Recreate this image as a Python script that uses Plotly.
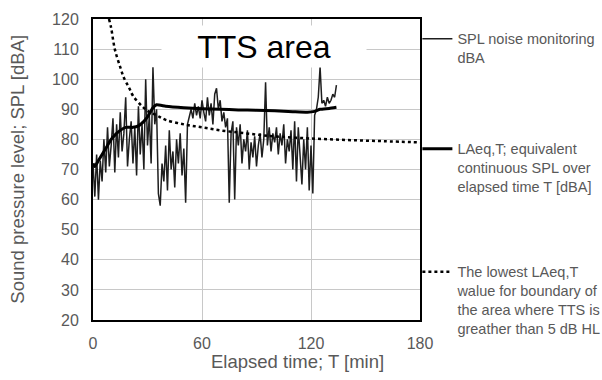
import plotly.graph_objects as go

# ---------------- data ----------------
spl_time = list(range(0, 135))  # elapsed minutes, one reading per minute
spl_values = [
    72, 61, 75, 60, 73, 66, 80, 69, 84, 71,
    78, 87, 69, 85, 74, 89, 76, 82, 94, 71,
    80, 86, 72, 84, 68, 91, 75, 85, 70, 100,
    78, 88, 72, 104, 85, 90, 62, 58, 72, 66,
    78, 63, 83, 70, 76, 64, 80, 72, 82, 68,
    77, 59, 85, 88, 90, 87, 92, 88, 91, 87,
    93, 89, 86, 94, 88, 92, 85, 95, 97, 90,
    93, 86, 89, 84, 87, 59, 82, 86, 60, 84,
    78, 85, 72, 80, 76, 83, 70, 79, 74, 81,
    71, 78, 82, 74, 80, 99, 78, 84, 76, 82,
    79, 84, 75, 82, 78, 85, 72, 80, 76, 83,
    70, 86, 66, 84, 74, 65, 80, 70, 84, 63,
    78, 62, 88, 90, 94, 104, 92, 93, 91, 94,
    92, 93, 95, 94, 98,
]

laeq_time = [0, 1, 3, 5, 8, 10, 13, 15, 18, 22, 25, 28, 30, 33, 35, 40, 50, 60,
             70, 80, 90, 100, 110, 118, 122, 125, 130, 134]
laeq_values = [72, 71, 73, 75, 78, 80, 82, 83, 84, 84, 84.5, 86, 87.5, 90.5, 91.5,
               91, 90.5, 90.2, 90, 89.8, 89.7, 89.5, 89.2, 89, 89.3, 90, 90.3, 90.7]

tts_time = [8.8, 10, 12, 15, 17, 20, 22, 27, 30, 35, 40, 50, 60, 70, 80, 90,
            100, 120, 140, 160, 180]
tts_values = [120, 117, 110, 104, 100.5, 97, 94.5, 91, 89.5, 88, 86.5, 85, 84,
              83, 82.3, 81.6, 81, 80.3, 79.8, 79.4, 79]

x_ticks = [0, 60, 120, 180]
y_ticks = [20, 30, 40, 50, 60, 70, 80, 90, 100, 110, 120]

legend_names = [
    "SPL noise monitoring<br>dBA",
    "LAeq,T; equivalent<br>continuous SPL over<br>elapsed time T [dBA]",
    "The lowest LAeq,T<br>walue for boundary of<br>the area where TTS is<br>greather than 5 dB HL",
]

# ---------------- styling ----------------
FONT = "Liberation Sans, Arial, sans-serif"
GREY_TXT = "#595959"
GRID = "#c8c8c8"

fig = go.Figure()
fig.add_trace(go.Scatter(x=spl_time, y=spl_values, mode="lines",
                         line=dict(color="#1e1e1e", width=1.5),
                         name=legend_names[0], legend="legend"))
fig.add_trace(go.Scatter(x=laeq_time, y=laeq_values, mode="lines",
                         line=dict(color="black", width=3, shape="spline", smoothing=0.4),
                         name=legend_names[1], legend="legend2"))
fig.add_trace(go.Scatter(x=tts_time, y=tts_values, mode="lines",
                         line=dict(color="black", width=2.5, dash="dot", shape="spline"),
                         name=legend_names[2], legend="legend3"))

leg_common = dict(font=dict(family=FONT, size=14.5, color=GREY_TXT),
                  bgcolor="rgba(0,0,0,0)", borderwidth=0, valign="top",
                  xanchor="left", yanchor="top", x=0.992)

fig.update_layout(
    width=602, height=380,
    margin=dict(l=93, r=182, t=19, b=60, autoexpand=False),
    paper_bgcolor="white", plot_bgcolor="white",
    font=dict(family=FONT, color=GREY_TXT),
    showlegend=True,
    legend=dict(**leg_common, y=0.987),
    legend2=dict(**leg_common, y=0.622),
    legend3=dict(**leg_common, y=0.213),
    xaxis=dict(range=[0, 180], tickvals=x_ticks, showgrid=True, gridcolor=GRID,
               gridwidth=1, showline=True, linecolor="black", linewidth=2,
               mirror=True, zeroline=False, ticks="", ticklabelstandoff=8,
               tickfont=dict(family=FONT, size=16, color=GREY_TXT)),
    yaxis=dict(range=[20, 120], tickvals=y_ticks, showgrid=True, gridcolor=GRID,
               gridwidth=1, showline=True, linecolor="black", linewidth=2,
               mirror=True, zeroline=False, ticks="", ticklabelstandoff=9,
               tickfont=dict(family=FONT, size=16, color=GREY_TXT)),
    annotations=[
        dict(text="TTS area", xref="x", yref="y", x=94, y=110.8,
             showarrow=False, font=dict(family=FONT, size=32, color="black"),
             bgcolor="white", width=202, height=39, align="center"),
        dict(text="Elapsed time; T [min]", xref="paper", yref="paper",
             x=0.624, y=-0.1395, xanchor="center", yanchor="middle",
             showarrow=False, font=dict(family=FONT, size=18.5, color=GREY_TXT)),
        dict(text="Sound pressure level; SPL [dBA]", xref="paper", yref="paper",
             x=-0.232, y=0.5, xanchor="center", yanchor="middle", textangle=-90,
             showarrow=False, font=dict(family=FONT, size=18.5, color=GREY_TXT)),
    ],
)

fig.write_html("out.html")
